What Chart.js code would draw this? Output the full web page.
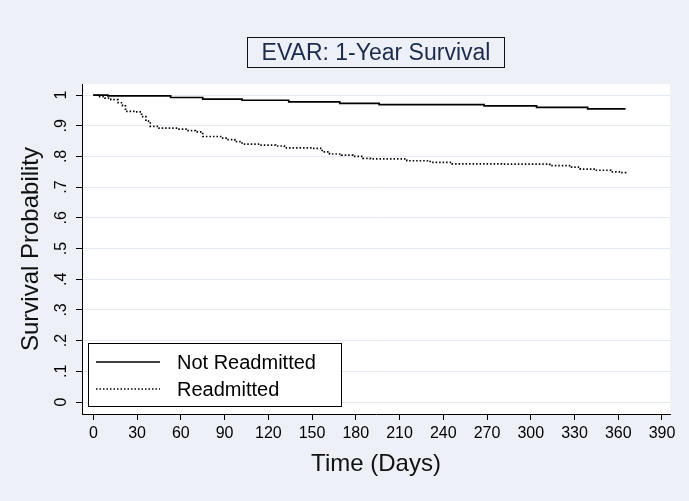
<!DOCTYPE html>
<html>
<head>
<meta charset="utf-8">
<script src="https://cdn.jsdelivr.net/npm/chart.js@4.4.1/dist/chart.umd.min.js"></script>
<style>
  html, body { margin: 0; padding: 0; background: #edf1f7; }
  #wrap { position: relative; width: 689px; height: 501px; }
  #canvas { position: absolute; left: 0; top: 0; }
  #title {
    position: absolute; left: 247px; top: 37px; width: 258px; height: 31px;
    box-sizing: border-box; border: 1px solid #111;
    font: 23px "Liberation Sans", Arial, sans-serif; color: #1c2b4c;
    text-align: center; line-height: 29px; white-space: nowrap;
  }
</style>
</head>
<body>
<div id="wrap">
  <canvas id="canvas" width="689" height="501"></canvas>
  <div id="title">EVAR: 1-Year Survival</div>
</div>
<script>
// Kaplan-Meier estimates (day, survival)
const notReadmittedDays = [0, 10, 53, 75, 102, 134, 169, 196, 268, 304, 339, 365];
const notReadmittedSurv = [1.0, 0.997, 0.992, 0.987, 0.983, 0.978, 0.973, 0.969, 0.965, 0.960, 0.955, 0.955];

const readmittedDays = [0, 3, 8, 12, 17, 20, 22, 29, 33, 36, 39, 45, 58, 65, 70, 75, 88, 91, 97, 102,
  114, 125, 131, 150, 157, 162, 170, 178, 185, 190, 215, 231, 246, 280, 313, 328, 334, 344, 355, 362, 365];
const readmittedSurv = [1.0, 0.995, 0.99, 0.985, 0.975, 0.965, 0.947, 0.945, 0.93, 0.915, 0.898, 0.892, 0.889, 0.884, 0.88, 0.865, 0.86, 0.855, 0.848, 0.84,
  0.837, 0.834, 0.828, 0.826, 0.815, 0.808, 0.804, 0.8, 0.794, 0.792, 0.786, 0.781, 0.776, 0.775, 0.77, 0.765, 0.759, 0.755, 0.75, 0.747, 0.745];

const seriesLabels = ['Not Readmitted', 'Readmitted'];
const xTicks = [0, 30, 60, 90, 120, 150, 180, 210, 240, 270, 300, 330, 360, 390];
const yTicks = [0, 0.1, 0.2, 0.3, 0.4, 0.5, 0.6, 0.7, 0.8, 0.9, 1];

const FONT = '"Liberation Sans", Arial, sans-serif';
const dotted = [1.5, 2];

// white plot region
const plotBg = {
  id: 'plotBg',
  beforeDraw(chart) {
    const {ctx, chartArea: a} = chart;
    ctx.save();
    ctx.fillStyle = '#fff';
    ctx.fillRect(a.left, a.top, a.right - a.left, a.bottom - a.top);
    ctx.restore();
  }
};

// legend box in the lower left of the plot
const boxLegend = {
  id: 'boxLegend',
  afterDraw(chart) {
    const ctx = chart.ctx;
    const x = 88.5, y = 343.5, w = 253, h = 63;
    ctx.save();
    ctx.fillStyle = '#fff';
    ctx.fillRect(x, y, w, h);
    ctx.strokeStyle = '#000';
    ctx.lineWidth = 1;
    ctx.strokeRect(x, y, w, h);
    ctx.font = '20px ' + FONT;
    ctx.fillStyle = '#000';
    ctx.textBaseline = 'middle';
    chart.data.datasets.forEach((ds, i) => {
      const ly = 362 + i * 27;
      ctx.beginPath();
      ctx.setLineDash(ds.borderDash || []);
      ctx.lineWidth = ds.borderWidth;
      ctx.moveTo(96, ly);
      ctx.lineTo(160, ly);
      ctx.stroke();
      ctx.setLineDash([]);
      ctx.fillText(ds.label, 177, ly + 1);
    });
    ctx.restore();
  }
};

const ctx = document.getElementById('canvas').getContext('2d');
const myChart = new Chart(ctx, {
  type: 'line',
  data: {
    datasets: [{
      label: seriesLabels[0],
      data: notReadmittedDays.map((d, i) => ({x: d, y: notReadmittedSurv[i]})),
      borderColor: '#000',
      borderWidth: 1.7,
      pointRadius: 0,
      stepped: true,
      fill: false
    }, {
      label: seriesLabels[1],
      data: readmittedDays.map((d, i) => ({x: d, y: readmittedSurv[i]})),
      borderColor: '#000',
      borderWidth: 1.7,
      borderDash: dotted,
      pointRadius: 0,
      stepped: true,
      fill: false
    }]
  },
  options: {
    responsive: false,
    animation: false,
    layout: { padding: { top: 84, right: 19, left: 0, bottom: 0 } },
    plugins: { legend: { display: false }, tooltip: { enabled: false } },
    scales: {
      x: {
        type: 'linear',
        min: -7.8,
        max: 395.5,
        afterBuildTicks: s => { s.ticks = xTicks.map(v => ({value: v})); },
        afterFit: s => { s.height = 87; },
        grid: { drawOnChartArea: false, tickLength: 6, tickColor: '#000' },
        border: { color: '#000', width: 1 },
        ticks: { autoSkip: false, maxRotation: 0, color: '#000', padding: 4,
                 font: { family: FONT, size: 16 } },
        title: { display: true, text: 'Time (Days)', color: '#111',
                 font: { family: FONT, size: 24 }, padding: { top: 0, bottom: 22 } }
      },
      y: {
        type: 'linear',
        min: -0.039,
        max: 1.036,
        afterBuildTicks: s => { s.ticks = yTicks.map(v => ({value: v})); },
        afterFit: s => { s.width = 82; },
        grid: { color: '#e2e9f1', lineWidth: 1, tickLength: 6, tickColor: '#000' },
        border: { color: '#000', width: 1 },
        ticks: {
          autoSkip: false, minRotation: 90, maxRotation: 90, crossAlign: 'center',
          color: '#000', padding: 8, font: { family: FONT, size: 16 },
          callback: v => v === 0 ? '0' : v === 1 ? '1' : '.' + Math.round(v * 10)
        },
        title: { display: true, text: 'Survival Probability', color: '#111',
                 font: { family: FONT, size: 24 }, padding: { top: 17, bottom: 0 } }
      }
    }
  },
  plugins: [plotBg, boxLegend]
});
</script>
</body>
</html>
